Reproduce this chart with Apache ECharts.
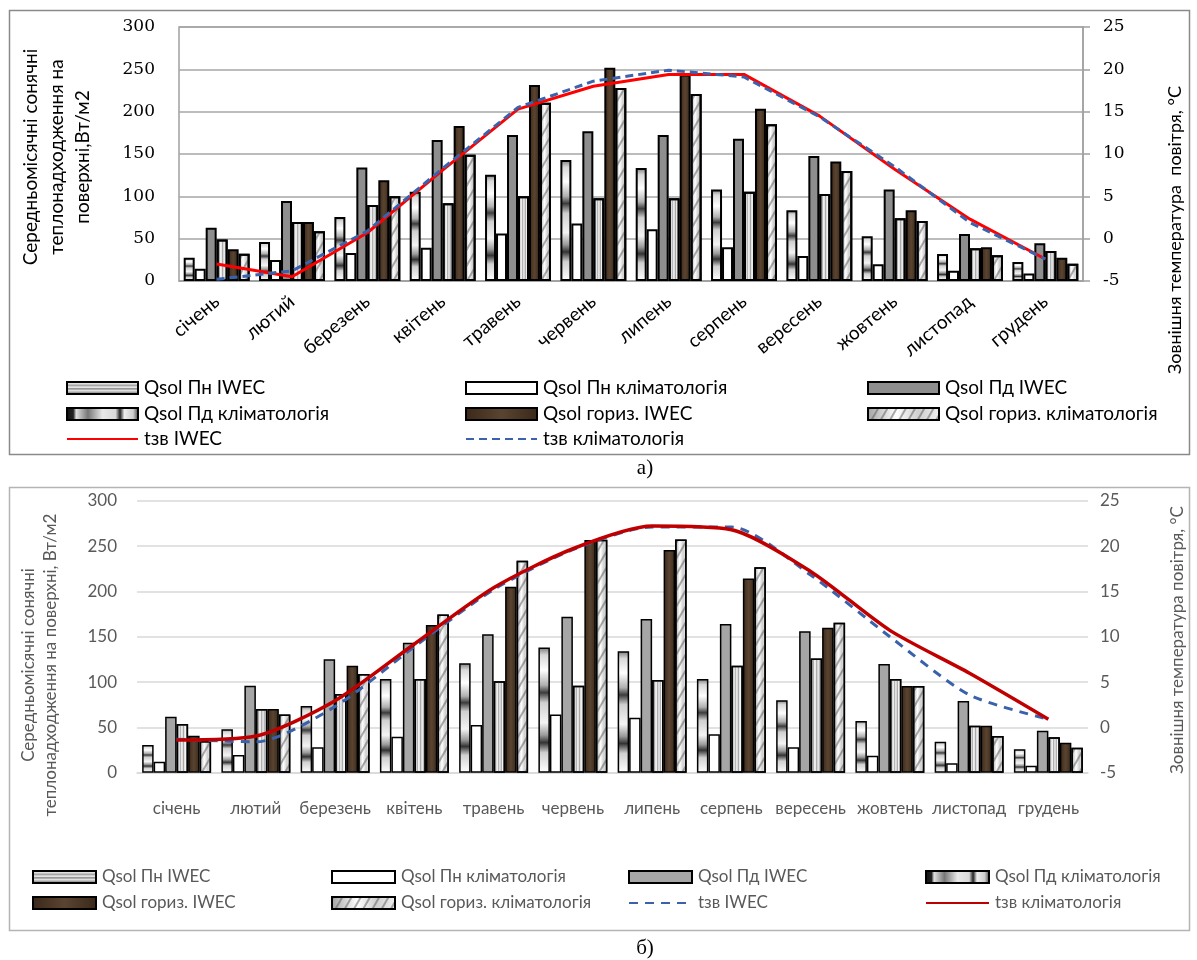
<!DOCTYPE html>
<html><head><meta charset="utf-8">
<script src="https://cdn.jsdelivr.net/npm/echarts@6/dist/echarts.min.js"></script>
<style>
html,body{margin:0;padding:0;background:#fff;}
#a{position:absolute;left:0;top:0;width:1197px;height:480px;}
#b{position:absolute;left:0;top:480px;width:1197px;height:480px;}
</style>
</head><body><div id="a"></div><div id="b"></div>
<script>
// ---------- categories & names ----------
const months = ['січень','лютий','березень','квітень','травень','червень','липень','серпень','вересень','жовтень','листопад','грудень'];
const barNames = ['Qsol Пн IWEC','Qsol Пн кліматологія','Qsol Пд IWEC','Qsol Пд кліматологія','Qsol гориз. IWEC','Qsol гориз. кліматологія'];
const tNameIwec = 'tзв IWEC';
const tNameClim = 'tзв кліматологія';
const leftTicks = [0,50,100,150,200,250,300];
const rightTicks = [-5,0,5,10,15,20,25];

// ---------- chart а) values ----------
const a_pnIwec  = [27.6,46,75.6,105.5,125.6,143,133.5,108,83.5,53,32,22.4];
const a_pnClim  = [14.6,24.8,33,39.4,56,68,61,40,29.5,19.7,12,9];
const a_pdIwec  = [63,94.5,134,166.5,172.4,177,172.4,168,147.6,108,55.5,44.5];
const a_pdClim  = [49,69.7,89.8,91.7,100,97.6,97.6,105.5,102.8,74,38.6,35.4];
const a_horIwec = [37.4,69.7,119,183,231.5,252,244,203.5,141,83.5,40,27.6];
const a_horClim = [32.3,58.7,100,149,210.6,228,221,185,130,71,30.3,20.5];
const a_tIwec   = [-3,-4.5,0.7,8.1,15.3,18,19.4,19.4,14.5,8.2,2.3,-2.4];
const a_tClim   = [-4.8,-3.8,0.9,8.3,15.5,18.6,19.9,19.1,14.4,8.5,1.9,-2.4];

// ---------- chart б) values ----------
const b_pnIwec  = [30.5,47.8,73.5,103.3,120.6,138,134,103.3,80,57,34.2,26];
const b_pnClim  = [12.1,19.5,28,39.7,52.6,64.3,60.7,42.3,28,18.7,10.3,7.7];
const b_pdIwec  = [61.8,96,125,143.4,152.6,172,169.5,164,156,119.8,79,46.3];
const b_pdClim  = [53.7,70.2,86.8,103.3,101,96,102.2,118,126,103.3,51.8,39];
const b_horIwec = [40.8,70.2,118,162.8,205,256.6,245.6,214.3,160,95.6,51.8,33];
const b_horClim = [35,64.3,108.8,174.6,233.8,257,257.3,226.5,165.4,95.6,40.4,27.6];
const b_tIwec   = [-1.3,-1.6,2.3,8.9,15.2,19.6,22.1,22.1,16.8,10.0,3.6,0.9];
const b_tClim   = [-1.4,-0.96,2.94,9.2,15.4,19.7,22.2,21.8,17.2,10.7,6.0,0.9];

// ---------- styles ----------
const SANS = 'Lato, "Open Sans", sans-serif';
function lg(x,y,x2,y2,stops){return {type:'linear',x:x,y:y,x2:x2,y2:y2,colorStops:stops.map(s=>({offset:s[0],color:s[1]}))};}
function fills(grayC){
  return [
    {color: lg(0,0,0,1,[[0,'#7a7a7a'],[0.06,'#d8d8d8'],[0.18,'#ffffff'],[0.3,'#b0b0b0'],[0.36,'#3c3c3c'],[0.44,'#cfcfcf'],[0.6,'#f4f4f4'],[0.7,'#9a9a9a'],[0.76,'#333333'],[0.84,'#d0d0d0'],[1,'#ffffff']])},
    {color: '#ffffff'},
    {color: grayC},
    {color: lg(0,0,1,0,[[0,'#a8a8a8'],[0.35,'#f2f2f2'],[0.6,'#d4d4d4'],[0.8,'#fafafa'],[1,'#b0b0b0']]),
     decal:{symbol:'rect',symbolSize:1,dashArrayX:[1,2],dashArrayY:[5,0],color:'rgba(110,110,110,0.45)'}},
    {color: lg(0,0,1,0,[[0,'#3b2819'],[0.5,'#5a4431'],[1,'#3a2819']])},
    {color: lg(0,0,1,0,[[0,'#a0a0a0'],[0.4,'#ffffff'],[0.7,'#cfcfcf'],[1,'#f0f0f0']]),
     decal:{symbol:'rect',symbolSize:1,dashArrayX:[1,0],dashArrayY:[2,6],rotation:-Math.PI/3,color:'rgba(90,90,90,0.5)'}}
  ];
}
// legend icon looks (as in the original legend)
const legendIconStyle = {
  0: {color: lg(0,0,0,1,[[0,'#666'],[0.2,'#eee'],[0.3,'#999'],[0.45,'#f2f2f2'],[0.55,'#888'],[0.7,'#eee'],[0.8,'#999'],[1,'#ddd']])},
  3: {color: lg(0,0,1,0,[[0,'#111'],[0.1,'#222'],[0.14,'#e0e0e0'],[0.3,'#777'],[0.5,'#e8e8e8'],[0.68,'#d8d8d8'],[0.74,'#222'],[0.8,'#eee'],[0.92,'#ccc'],[1,'#333']])}
};
function bars(dataArr, grayC, bw){
  const f = fills(grayC);
  return dataArr.map((d,i)=>({
    name: barNames[i], type:'bar', data:d,
    itemStyle: Object.assign({borderColor:'#000',borderWidth:bw}, f[i])
  }));
}
function legendItem(name, idx, x, yc, w, h, size, color){
  let item;
  if (idx < 6) {
    item = {name:name, icon:'rect'};
    if (legendIconStyle[idx]) item.itemStyle = Object.assign({decal:'none'}, legendIconStyle[idx]);
  } else {
    item = {name:name, itemStyle:{opacity:0}};
  }
  return {
    data:[item],
    left:x, top:yc-11, itemWidth:w, itemHeight:h, itemGap:0, padding:0,
    selectedMode:false,
    textStyle:{fontFamily:SANS,fontSize:size,color:color,lineHeight:22,padding:[0,0,0,1]}
  };
}

// ---------- chart а) ----------
const chartA = echarts.init(document.getElementById('a'));
const legA = [];
const colA = [66,465,867];
const rowA = [388,414,439];
const allA = barNames.concat([tNameIwec,tNameClim]);
allA.forEach((n,i)=>{ legA.push(legendItem(n, i, colA[i%3], rowA[Math.floor(i/3)], 71, 12, 19, '#000')); });
chartA.setOption({
  animation:false,
  grid:{left:179,right:114,top:27,height:254,show:true,borderColor:'#a0a0a0',borderWidth:1.5},
  legend: legA,
  xAxis:{type:'category',data:months,
    axisTick:{show:false},axisLine:{lineStyle:{color:'#a0a0a0',width:1.5}},
    axisLabel:{rotate:40,interval:0,margin:18,fontFamily:SANS,fontSize:19,color:'#000'}},
  yAxis:[
    {type:'value',min:leftTicks[0],max:leftTicks[leftTicks.length-1],interval:50,
     splitLine:{lineStyle:{color:'#a6a6a6',width:1.5}},axisLine:{show:false},axisTick:{show:false},
     axisLabel:{margin:24,fontFamily:'"DejaVu Serif", serif',fontSize:17,color:'#000'}},
    {type:'value',min:rightTicks[0],max:rightTicks[rightTicks.length-1],interval:5,position:'right',
     splitLine:{show:false},axisLine:{show:true,lineStyle:{color:'#a0a0a0',width:1.5}},
     axisTick:{show:true,length:7,lineStyle:{color:'#a0a0a0',width:1.5}},
     axisLabel:{margin:20,fontFamily:'"DejaVu Serif", serif',fontSize:17,color:'#000'}}
  ],
  series: bars([a_pnIwec,a_pnClim,a_pdIwec,a_pdClim,a_horIwec,a_horClim],'#8e8e8e',2)
    .map(s=>Object.assign(s,{barGap:'0%',barCategoryGap:'12.5%'}))
    .concat([
      {name:tNameIwec,type:'line',yAxisIndex:1,data:a_tIwec,symbol:'none',lineStyle:{color:'#ff0000',width:3},itemStyle:{color:'#ff0000'}},
      {name:tNameClim,type:'line',yAxisIndex:1,data:a_tClim,symbol:'none',lineStyle:{color:'#3b63ad',width:3,type:[8,5]},itemStyle:{color:'#3b63ad'}}
    ]),
  graphic:[
    {type:'rect',z:-10,shape:{x:9.5,y:10.5,width:1180,height:444},style:{fill:'none',stroke:'#8a8a8a',lineWidth:1.5}},
    {type:'text',x:57,y:157,rotation:Math.PI/2,style:{text:'Середньомісячні сонячні\nтеплонадходження на\nповерхні,Вт/м2',align:'center',verticalAlign:'middle',fontFamily:SANS,fontSize:19,lineHeight:26,fill:'#000'}},
    {type:'text',x:1175,y:230,rotation:Math.PI/2,style:{text:'Зовнішня температура  повітря, °C',align:'center',verticalAlign:'middle',fontFamily:SANS,fontSize:18,fill:'#000'}},
    {type:'text',x:645,y:468,style:{text:'а)',align:'center',verticalAlign:'middle',fontFamily:'"Liberation Serif", serif',fontSize:21,fill:'#000'}}
  ]
});

// ---------- chart б) ----------
const chartB = echarts.init(document.getElementById('b'));
const GR = '#595959';
const legB = [];
const colB = [32,331,628,925];
const rowB = [397,423];
const allB = barNames.concat([tNameIwec,tNameClim]);
allB.forEach((n,i)=>{ legB.push(legendItem(n, i, colB[i%4], rowB[Math.floor(i/4)], 63, 12, 17, GR)); });
chartB.setOption({
  animation:false,
  grid:{left:137,right:109,top:20.7,height:272},
  legend: legB,
  xAxis:{type:'category',data:months,
    axisTick:{show:false},axisLine:{lineStyle:{color:'#d9d9d9',width:1.5}},
    axisLabel:{interval:0,margin:27,fontFamily:SANS,fontSize:17,color:GR}},
  yAxis:[
    {type:'value',min:leftTicks[0],max:leftTicks[leftTicks.length-1],interval:50,
     splitLine:{lineStyle:{color:'#d9d9d9',width:1.5}},axisLine:{show:false},axisTick:{show:false},
     axisLabel:{margin:20,fontFamily:SANS,fontSize:17,color:GR}},
    {type:'value',min:rightTicks[0],max:rightTicks[rightTicks.length-1],interval:5,position:'right',
     splitLine:{show:false},axisLine:{show:false},axisTick:{show:false},
     axisLabel:{margin:12,fontFamily:SANS,fontSize:17,color:GR}}
  ],
  series: bars([b_pnIwec,b_pnClim,b_pdIwec,b_pdClim,b_horIwec,b_horClim],'#a6a6a6',1.5)
    .map(s=>Object.assign(s,{barGap:'0%',barCategoryGap:'13%'}))
    .concat([
      {name:tNameIwec,type:'line',yAxisIndex:1,data:b_tIwec,symbol:'none',smooth:0.25,lineStyle:{color:'#3a62aa',width:3,type:[9,7]},itemStyle:{color:'#3a62aa'}},
      {name:tNameClim,type:'line',yAxisIndex:1,data:b_tClim,symbol:'none',smooth:0.25,lineStyle:{color:'#c00000',width:3.5},itemStyle:{color:'#c00000'}}
    ]),
  graphic:[
    {type:'rect',z:-10,shape:{x:9.5,y:7.5,width:1180,height:443},style:{fill:'none',stroke:'#b4b4b4',lineWidth:1.5}},
    {type:'text',x:40,y:185,rotation:Math.PI/2,style:{text:'Середньомісячні сонячні\nтеплонадходження на поверхні, Вт/м2',align:'center',verticalAlign:'middle',fontFamily:SANS,fontSize:17,lineHeight:22,fill:GR}},
    {type:'text',x:1178,y:160,rotation:Math.PI/2,style:{text:'Зовнішня температура повітря, °C',align:'center',verticalAlign:'middle',fontFamily:SANS,fontSize:17,fill:GR}},
    {type:'text',x:645,y:468,style:{text:'б)',align:'center',verticalAlign:'middle',fontFamily:'"Liberation Serif", serif',fontSize:21,fill:'#000'}}
  ]
});
</script>
</body></html>
